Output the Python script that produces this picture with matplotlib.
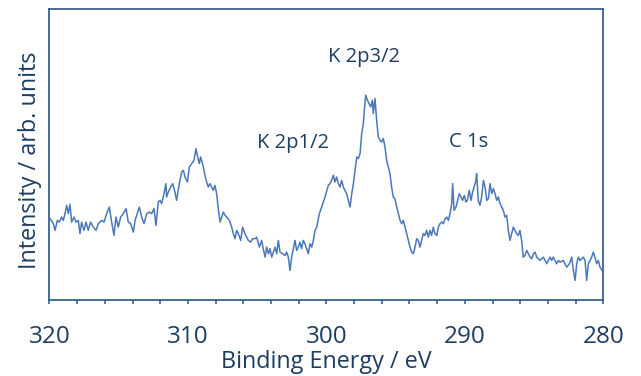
import matplotlib
matplotlib.use('Agg')
import matplotlib.pyplot as plt
from matplotlib.ticker import MultipleLocator

# espectro XPS: energia de enlace (eV) e intensidad (unidades arbitrarias)
energia = [
    319.96, 319.72, 319.60, 319.43, 319.29, 319.12, 319.00, 318.88, 318.76, 318.64,
    318.52, 318.40, 318.23, 318.09, 317.92, 317.80, 317.68, 317.51, 317.36, 317.20,
    317.03, 316.83, 316.64, 316.47, 316.23, 316.06, 315.87, 315.68, 315.51, 315.34,
    315.20, 315.03, 314.86, 314.67, 314.47, 314.31, 314.14, 313.94, 313.82, 313.66,
    313.51, 313.34, 313.17, 312.98, 312.79, 312.62, 312.45, 312.31, 312.14, 312.02,
    311.90, 311.78, 311.59, 311.54, 311.42, 311.25, 311.10, 310.94, 310.82, 310.62,
    310.45, 310.33, 310.21, 310.04, 309.90, 309.73, 309.56, 309.42, 309.32, 309.18,
    309.08, 308.89, 308.77, 308.65, 308.53, 308.41, 308.29, 308.17, 308.05, 307.93,
    307.81, 307.68, 307.56, 307.44, 307.32, 307.20, 307.01, 306.84, 306.72, 306.60,
    306.48, 306.36, 306.19, 306.05, 305.88, 305.76, 305.64, 305.47, 305.33, 305.16,
    305.04, 304.84, 304.68, 304.56, 304.43, 304.31, 304.19, 304.07, 303.95, 303.83,
    303.71, 303.59, 303.47, 303.35, 303.16, 302.99, 302.87, 302.75, 302.63, 302.51,
    302.39, 302.27, 302.15, 302.03, 301.91, 301.79, 301.67, 301.55, 301.43, 301.31,
    301.18, 301.06, 300.94, 300.82, 300.70, 300.51, 300.34, 300.10, 299.86,
    299.74, 299.62, 299.50, 299.38, 299.26, 299.14, 299.02, 298.90, 298.78, 298.66,
    298.54, 298.42, 298.29, 298.17, 298.05, 297.93, 297.81, 297.69, 297.57, 297.45,
    297.33, 297.26, 297.16, 297.04, 296.92, 296.80, 296.68, 296.61, 296.49, 296.37,
    296.25, 296.13, 296.01, 295.89, 295.77, 295.65, 295.53, 295.41, 295.29, 295.17,
    295.05, 294.92, 294.80, 294.68, 294.56, 294.44, 294.32, 294.20, 294.08, 293.96,
    293.84, 293.72, 293.60, 293.48, 293.36, 293.24, 293.12, 293.00, 292.88, 292.76,
    292.64, 292.52, 292.40, 292.28, 292.16, 292.03, 291.91, 291.79, 291.67, 291.55,
    291.43, 291.31, 291.19, 291.07, 290.95, 290.88, 290.78, 290.64, 290.52, 290.40,
    290.28, 290.16, 290.04, 289.92, 289.82, 289.68, 289.56, 289.44, 289.34, 289.22,
    289.15, 289.03, 288.91, 288.79, 288.66, 288.54, 288.42, 288.30, 288.18, 288.06,
    287.94, 287.82, 287.70, 287.58, 287.46, 287.34, 287.22, 287.10, 286.98, 286.86,
    286.74, 286.62, 286.50, 286.38, 286.26, 286.14, 286.02, 285.90, 285.78, 285.65,
    285.53, 285.41, 285.29, 285.17, 285.05, 284.93, 284.81, 284.57, 284.33, 284.09,
    283.85, 283.73, 283.61, 283.37, 283.25, 283.13, 282.89, 282.65, 282.45, 282.28,
    282.16, 282.04, 281.92, 281.80, 281.68, 281.56, 281.44, 281.32, 281.20, 281.08,
    280.96, 280.84, 280.72, 280.60, 280.48, 280.36, 280.24, 280.00,
]
intensidad = [
    81.2, 76.2, 69.5, 79.5, 77.8, 82.8, 79.5, 86.2, 94.5, 86.2,
    95.5, 77.8, 82.8, 77.8, 79.5, 66.2, 77.8, 69.5, 77.8, 69.5,
    77.8, 72.8, 69.5, 76.2, 79.5, 77.8, 86.2, 92.8, 77.8, 64.5,
    82.8, 72.8, 82.8, 86.2, 91.2, 77.8, 76.2, 67.8, 79.5, 86.2,
    92.8, 82.8, 76.2, 86.2, 87.8, 86.2, 91.2, 74.5, 97.8, 99.5,
    96.2, 102.8, 116.2, 102.8, 107.8, 112.8, 116.2, 107.8, 99.5, 116.2,
    127.8, 129.5, 122.8, 117.8, 132.8, 136.2, 139.5, 151.2, 144.5, 136.2,
    142.8, 132.8, 124.5, 117.8, 112.8, 116.2, 112.8, 109.5, 114.5, 106.2,
    91.2, 77.8, 82.8, 87.8, 84.5, 82.8, 79.5, 72.8, 66.2, 61.2,
    69.5, 66.2, 59.5, 72.8, 66.2, 62.8, 59.5, 57.8, 61.2, 61.2,
    62.8, 52.8, 59.5, 51.2, 42.8, 52.8, 46.2, 51.2, 42.8, 47.8,
    52.8, 46.2, 59.5, 47.8, 46.2, 44.5, 47.8, 42.8, 29.5, 42.8,
    51.2, 59.5, 49.5, 52.8, 57.8, 51.2, 59.5, 56.2, 51.2, 46.2,
    56.2, 52.8, 59.5, 69.5, 72.8, 86.2, 92.8, 102.8, 114.5,
    116.2, 119.5, 124.5, 117.8, 122.8, 116.2, 112.8, 119.5, 112.8, 109.5,
    106.2, 99.5, 92.8, 106.2, 116.2, 129.5, 142.8, 141.2, 146.2, 166.2,
    176.2, 189.5, 204.5, 199.5, 196.2, 192.8, 199.5, 186.2, 201.2, 179.5,
    162.8, 159.5, 157.8, 161.2, 152.8, 139.5, 132.8, 126.2, 112.8, 102.8,
    101.2, 92.8, 86.2, 79.5, 76.2, 79.5, 72.8, 66.2, 59.5, 52.8,
    47.8, 46.2, 52.8, 61.2, 59.5, 52.8, 59.5, 66.2, 64.5, 69.5,
    62.8, 69.5, 64.5, 72.8, 66.2, 64.5, 72.8, 76.2, 77.8, 76.2,
    81.2, 82.8, 79.5, 86.2, 96.2, 116.2, 89.5, 92.8, 99.5, 106.2,
    102.8, 99.5, 104.5, 97.8, 99.5, 109.5, 99.5, 107.8, 112.8, 117.8,
    126.2, 99.5, 94.5, 102.8, 119.5, 112.8, 99.5, 101.2, 116.2, 106.2,
    111.2, 106.2, 99.5, 102.8, 96.2, 92.8, 89.5, 82.8, 84.5, 69.5,
    59.5, 66.2, 72.8, 69.5, 66.2, 64.5, 69.5, 59.5, 42.8, 44.5,
    49.5, 46.2, 42.8, 41.2, 46.2, 47.8, 42.8, 39.5, 42.8, 36.2,
    42.8, 39.5, 42.8, 36.2, 39.5, 37.8, 39.5, 32.8, 36.2, 42.8,
    29.5, 19.5, 36.2, 42.8, 39.5, 41.2, 42.8, 39.5, 19.5, 36.2,
    39.5, 42.8, 47.8, 42.8, 36.2, 39.5, 32.8, 27.8,
]

etiquetas = ['K 2p1/2', 'K 2p3/2', 'C 1s']
pos_etiquetas = [(302.4, 156.5), (297.3, 242.5), (289.7, 157.5)]

color_texto = '#1d3d63'
color_eje = '#3a6290'
color_linea = '#4a78b8'

plt.rcParams['font.family'] = ['Open Sans', 'DejaVu Sans']

fig = plt.figure(figsize=(6.41, 3.76), dpi=100)
ax = fig.add_axes([0.0772, 0.2021, 0.864, 0.7739])
ax.plot(energia, intensidad, color=color_linea, lw=1.1)

ax.set_xlim(320, 280)
ax.set_ylim(0, 290.5)
ax.set_yticks([])
ax.xaxis.set_major_locator(MultipleLocator(10))
ax.xaxis.set_minor_locator(MultipleLocator(2))
ax.tick_params(axis='x', which='both', direction='out', length=3.2, width=1.2,
               color=color_eje, labelcolor=color_texto, labelsize=17.5, pad=14.5)
for s in ax.spines.values():
    s.set_color(color_eje)
    s.set_linewidth(1.3)

ax.set_xlabel('Binding Energy / eV', fontsize=16.8, color=color_texto, labelpad=1)
ax.set_ylabel('Intensity / arb. units', fontsize=16.8, color=color_texto)
ax.yaxis.set_label_coords(-0.013, 0.48)

for t, (x, y) in zip(etiquetas, pos_etiquetas):
    ax.text(x, y, t, fontsize=14.5, color=color_texto, ha='center', va='center')

plt.savefig('out.png', dpi=100)
plt.close()
